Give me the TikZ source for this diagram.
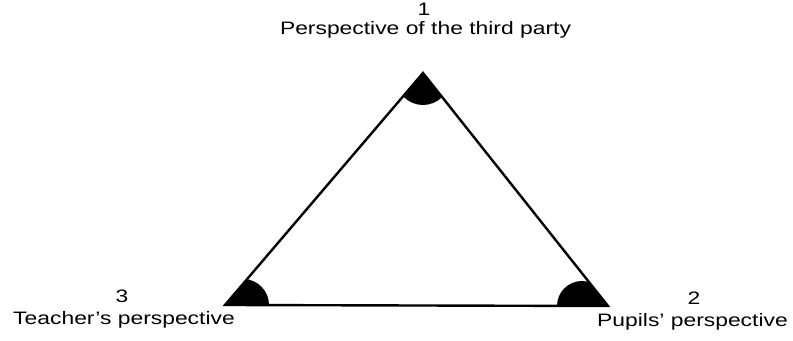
\documentclass[tikz,border=0pt]{standalone}
\usepackage{fontspec}
\setmainfont{Liberation Sans}
\newfontfamily\labfont[FakeStretch=1.27]{Liberation Sans}
\begin{document}
\begin{tikzpicture}[x=0.75pt,y=-0.75pt,
  lab/.style={font=\labfont\fontsize{13.5pt}{16pt}\selectfont, inner sep=0pt, anchor=base},
  edge/.style={line width=1.8pt, line join=miter}]
\useasboundingbox (0,0) rectangle (793,341);
\coordinate (A) at (423,73);
\coordinate (B) at (225,305);
\coordinate (C) at (608,306);
\begin{scope}
  \clip (A) -- (B) -- (C) -- cycle;
  \fill (423,78) circle (27);
  \fill (243,305) circle (26);
  \fill (582,306) circle (25);
\end{scope}
\draw[edge] (A) -- (B) -- (C) -- cycle;
\node[lab] (n1) at (424,16) {1};
\node[lab] (t1) at (425.5,35) {Perspective of the third party};
\node[lab] (n3) at (122,303) {3};
\node[lab] (t3) at (124,325) {Teacher’s perspective};
\node[lab] (n2) at (694,305) {2};
\node[lab] (t2) at (692.5,327) {Pupils’ perspective};
\end{tikzpicture}
\end{document}
